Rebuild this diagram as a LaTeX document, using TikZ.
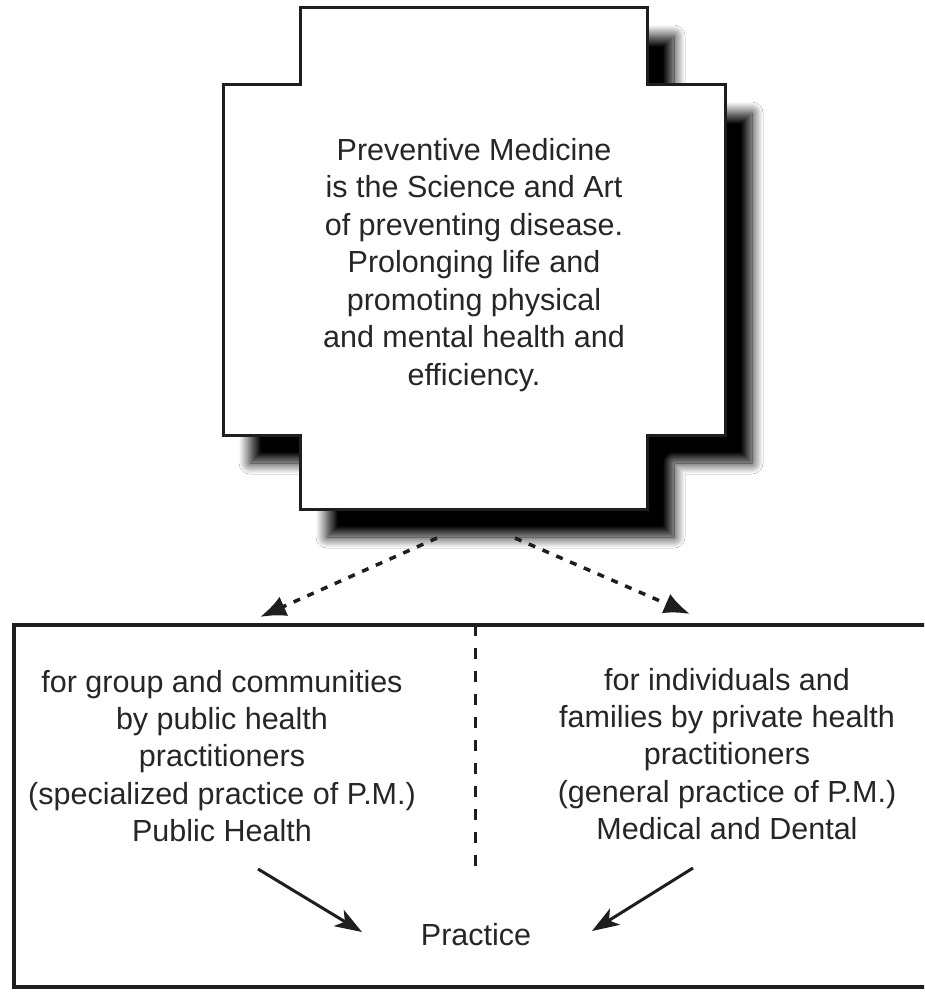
\documentclass[tikz,border=0pt]{standalone}
\usepackage{fontspec}
\setmainfont{Liberation Sans}
\usetikzlibrary{arrows.meta,shadows.blur}
\definecolor{ink}{HTML}{1E1E1E}
\definecolor{txt}{HTML}{262626}
\tikzset{
  outline/.style={draw=ink, line width=3pt, line join=miter},
  label30/.style={text=txt, align=center, inner sep=0pt, font=\fontsize{30.5}{37.5}\selectfont},
  label30b/.style={text=txt, align=center, inner sep=0pt, font=\fontsize{30.5}{37.25}\selectfont},
  dasharrow/.style={draw=ink, line width=3.5pt, dash pattern=on 7pt off 8pt, -{Latex[length=26pt,width=21pt]}},
  solidarrow/.style={draw=ink, line width=3pt, -{Stealth[length=27pt,width=19pt,inset=7pt]}},
  divider/.style={draw=ink, line width=3pt, dash pattern=on 11pt off 12pt}
}
\begin{document}
\begin{tikzpicture}[x=1pt,y=-1pt]
\useasboundingbox (0,0) rectangle (924,992);
\clip (0,0) rectangle (924,992);
\fill[white] (0,0) rectangle (924,992);
% cross-shaped box with blurred shadow
\path[outline, fill=white,
  blur shadow={shadow xshift=27pt, shadow yshift=-28pt, shadow blur radius=11pt, shadow blur steps=16, shadow opacity=100}]
  (300,8) -- (647,8) -- (647,85) -- (725,85) -- (725,435) -- (647,435)
  -- (647,509) -- (300,509) -- (300,435) -- (223,435) -- (223,85) -- (300,85) -- cycle;
\coordinate (crossL) at (437,538);
\coordinate (crossR) at (515,538);
\node[label30] (def) at (474,265) {Preventive Medicine\\is the Science and Art\\of preventing disease.\\Prolonging life and\\promoting physical\\and mental health and\\efficiency.};
% lower box
\draw[outline, line width=3.5pt] (940,625) -- (14,625) -- (14,987) -- (940,987);
\coordinate (divtop) at (475,625);
\coordinate (divbot) at (475,872);
\draw[divider] (divtop) -- (divbot);
\coordinate (tipL) at (260,617);
\coordinate (tipR) at (690,614);
\draw[dasharrow] (crossL) -- (tipL);
\draw[dasharrow] (crossR) -- (tipR);
\node[label30b] (pub) at (222,756) {for group and communities\\by public health\\practitioners\\(specialized practice of P.M.)\\Public Health};
\node[label30b] (priv) at (727,754) {for individuals and\\families by private health\\practitioners\\(general practice of P.M.)\\Medical and Dental};
\node[label30, anchor=base] (prac) at (476,945) {Practice};
\coordinate (aLs) at (258,869);
\coordinate (aLe) at (362,932);
\coordinate (aRs) at (693,868);
\coordinate (aRe) at (592,931);
\draw[solidarrow] (aLs) -- (aLe);
\draw[solidarrow] (aRs) -- (aRe);
\end{tikzpicture}
\end{document}
